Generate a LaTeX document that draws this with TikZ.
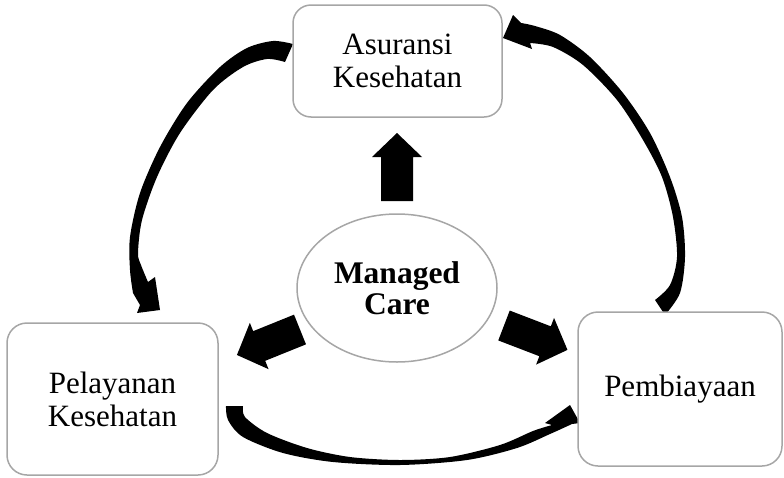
\documentclass[tikz,border=0pt]{standalone}
\usepackage{fontspec}
\setmainfont{Liberation Serif}
\usetikzlibrary{shapes.geometric}
\definecolor{boxgray}{HTML}{A6A6A6}
\newcommand\blockarr[2]{%
  \fill[shift={#1}, rotate=#2] (0,-16) -- (44,-16) -- (44,-25) -- (68,0) -- (44,25) -- (44,16) -- (0,16) -- cycle;}
\begin{document}
\begin{tikzpicture}[x=1pt,y=-1pt,
  box/.style={draw=boxgray, line width=1.5pt, rounded corners=18pt, fill=white,
    align=center, inner sep=0pt, font=\fontsize{31}{33}\selectfont},
  oval/.style={draw=boxgray, line width=1.5pt, ellipse, fill=white, inner sep=0pt,
    align=center, font=\bfseries\fontsize{31.5}{31}\selectfont}]
\useasboundingbox (0,0) rectangle (784,477);
% curved arrows
\fill plot[smooth] coordinates {(293,44) (273,41) (247,48) (220,67) (187,103) (160,147) (140,193) (130,237) (130,270) (133,293)}
  -- (140,305) -- (137,313) -- (160,310) -- (155,277)
  -- plot[smooth] coordinates {(148,282) (141,265) (138,253) (142,220) (157,177) (180,133) (213,90) (243,67) (267,59) (285,62)} -- cycle;
\fill plot[smooth] coordinates {(665,315) (680,293) (685,257) (682,217) (670,177) (650,133) (623,93) (590,57) (560,35) (535,26) (521,23)}
  -- (513,15) -- (503,38) -- (532,49)
  -- plot[smooth] coordinates {(530,43) (553,47) (583,65) (617,100) (643,140) (662,177) (673,217) (677,257) (670,285) (655,300)} -- cycle;
\fill plot[smooth] coordinates {(226,406) (228,420) (243,437) (283,453) (333,462) (400,465) (467,460) (517,448) (550,434) (572,424)}
  -- (580,423) -- (570,405) -- (545,423)
  -- plot[smooth] coordinates {(552,425) (533,431) (500,445) (450,457) (400,460) (350,457) (307,448) (267,433) (245,417) (243,406)} -- cycle;
% block arrows
\blockarr{(397,201)}{90}
\blockarr{(300,329.5)}{202}
\blockarr{(504,325.5)}{-21}
% nodes
\node[box, minimum width=209pt, minimum height=112pt] (ins) at (397.5,61) {Asuransi\\Kesehatan};
\node[box, minimum width=211pt, minimum height=152pt, rounded corners=20pt] (pel) at (112.5,399) {Pelayanan\\Kesehatan};
\node[box, minimum width=204pt, minimum height=154pt, rounded corners=20pt] (pem) at (680,389) {Pembiayaan};
\node[oval, minimum width=200pt, minimum height=148pt] (mc) at (397,288) {Managed\\Care};
\end{tikzpicture}
\end{document}
